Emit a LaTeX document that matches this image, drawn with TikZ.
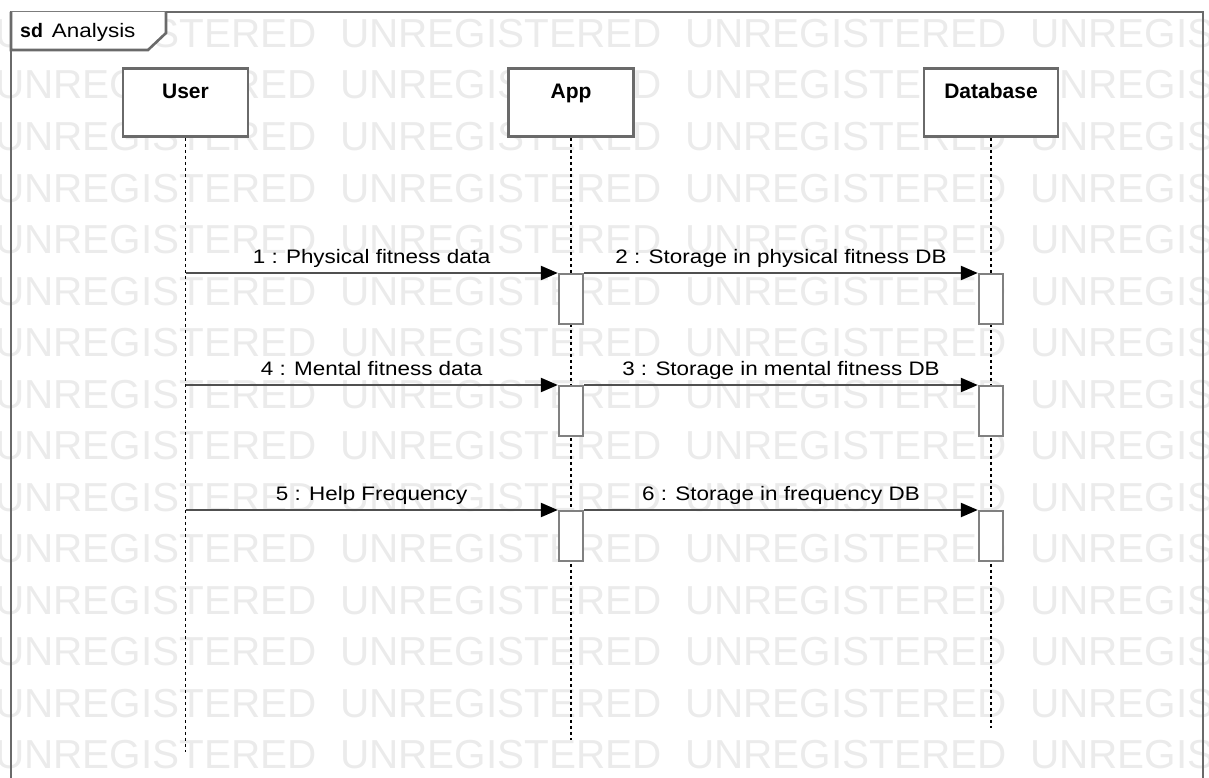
\documentclass[tikz,border=0pt]{standalone}
\usepackage{fontspec}
\setmainfont{Liberation Sans}
\newfontfamily\widesans[FakeStretch=1.15]{Liberation Sans}
\usetikzlibrary{arrows.meta}
\definecolor{wmgray}{HTML}{EBEBEB}
\definecolor{boxgray}{HTML}{6A6A6A}
\definecolor{msggray}{HTML}{505050}

\begin{document}
\begin{tikzpicture}[x=1pt, y=-1pt,
    wm/.style={font=\fontsize{40.5}{40}\selectfont, text=wmgray,
               anchor=base west, inner sep=0},
    frame/.style={draw=boxgray, line width=2.6pt},
    head/.style={draw=boxgray, line width=2.8pt, fill=white, anchor=north,
                 minimum width=125pt, inner xsep=0, inner ysep=8pt,
                 text height=22pt, text depth=30pt,
                 font=\fontsize{21}{24}\selectfont\bfseries},
    act/.style={draw=boxgray!85, line width=2.4pt, fill=white, anchor=north,
                minimum width=24pt, minimum height=50pt, inner sep=0},
    life/.style={line width=1.5pt, dash pattern=on 3.5pt off 2.5pt},
    msg/.style={draw=msggray, line width=2.3pt,
                -{Triangle[length=17pt,width=14pt,color=black]}},
    lab/.style={font=\widesans\fontsize{19.5}{22}\selectfont, anchor=base,
                yshift=10pt, inner sep=0}
  ]
  \useasboundingbox (0,0) rectangle (1209,778);
  \foreach \r in {0,...,14} {
    \foreach \c in {0,...,3} {
      \node[wm] (wm-\r-\c) at ({-5+345*\c},{47.5+51.5*\r}) {UNREGISTERED};
    }
  }

  \draw[frame] (11,800) -- (11,12) -- (1203,12) -- (1203,800);
  \draw[frame, fill=white] (11,12) -- (11,50) -- (148,50) -- (166,33) -- (166,12);
  \node[anchor=base west, inner sep=0, font=\fontsize{19.5}{22}\selectfont]
    (tab) at (20,37.5) {\textbf{sd}\hspace{9pt}{\widesans Analysis}};

  \node[head] (user) at (185.5,67) {User};
  \node[head] (app)  at (571,67)   {App};
  \node[head, minimum width=134pt] (db) at (991,67) {Database};

  \coordinate (user-end) at (user.south |- 0,752);
  \coordinate (app-end)  at (app.south |- 0,740);
  \coordinate (db-end)   at (db.south |- 0,728);
  \draw[life] (user.south) -- (user-end);
  \draw[life] (app.south)  -- (app-end);
  \draw[life] (db.south)   -- (db-end);

  \node[act] (app-1) at (571,273) {};
  \node[act] (db-1)  at (991,273) {};
  \node[act] (app-2) at (571,385) {};
  \node[act] (db-2)  at (991,385) {};
  \node[act] (app-3) at (571,510) {};
  \node[act] (db-3)  at (991,510) {};

  \coordinate (user-1) at (user.south |- app-1.north);
  \coordinate (user-2) at (user.south |- app-2.north);
  \coordinate (user-3) at (user.south |- app-3.north);

  \draw[msg] (user-1) -- node[lab]{1 : Physical fitness data} (app-1.north west);
  \draw[msg] (app-1.north east) -- node[lab]{2 : Storage in physical fitness DB} (db-1.north west);
  \draw[msg] (user-2) -- node[lab]{4 : Mental fitness data} (app-2.north west);
  \draw[msg] (app-2.north east) -- node[lab]{3 : Storage in mental fitness DB} (db-2.north west);
  \draw[msg] (user-3) -- node[lab]{5 : Help Frequency} (app-3.north west);
  \draw[msg] (app-3.north east) -- node[lab]{6 : Storage in frequency DB} (db-3.north west);
\end{tikzpicture}
\end{document}
